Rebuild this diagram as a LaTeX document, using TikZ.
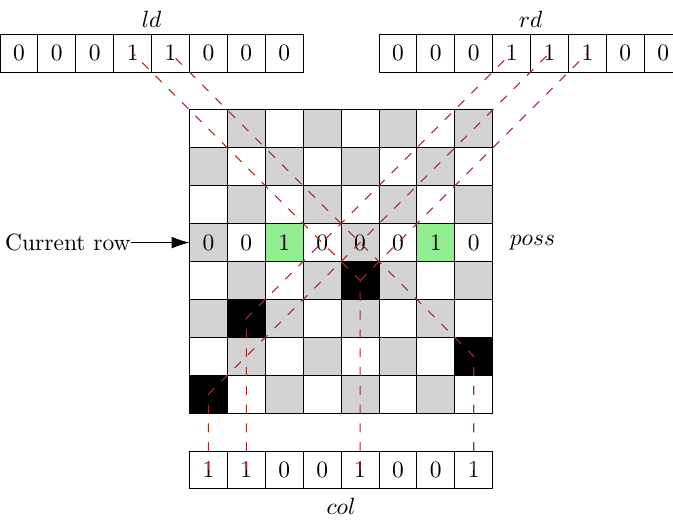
\documentclass[tikz,border=0pt]{standalone}
\usetikzlibrary{arrows.meta}
\definecolor{cellgray}{RGB}{211,211,211}
\definecolor{lgreen}{RGB}{144,238,144}
\definecolor{linkred}{RGB}{165,42,42}
\begin{document}
\begin{tikzpicture}[x=16.13pt, y=-16.13pt,
  cell/.style={draw, minimum size=16.13pt, inner sep=0pt, outer sep=0pt},
  link/.style={draw=linkred, dash pattern=on 3.8pt off 4.2pt, line width=0.45pt},
  lbl/.style={inner sep=0pt}]
\useasboundingbox (0,0) rectangle (17.757,13.694);
% ld array
\foreach \v [count=\i from 0] in {0,0,0,1,1,0,0,0}
  \node[cell] (ld\i) at (\i+0.5,1.4) {\v};
% rd array
\foreach \v [count=\i from 0] in {0,0,0,1,1,1,0,0}
  \node[cell] (rd\i) at (10.5+\i,1.4) {\v};
% col array
\foreach \v [count=\i from 0] in {1,1,0,0,1,0,0,1}
  \node[cell] (col\i) at (5.5+\i,12.4) {\v};
% board
\foreach \r in {0,...,7}{
 \foreach \c in {0,...,7}{
  \pgfmathtruncatemacro\parity{mod(\r+\c,2)}
  \pgfmathtruncatemacro\qc{{-1,-1,-1,-1,4,1,7,0}[\r]}
  \pgfmathtruncatemacro\pv{{0,0,1,0,0,0,1,0}[\c]}
  \ifnum\parity=1 \def\fc{cellgray}\else\def\fc{white}\fi
  \ifnum\c=\qc \def\fc{black}\fi
  \def\txt{}
  \ifnum\r=3 \edef\txt{\pv}\ifnum\pv=1 \def\fc{lgreen}\fi\fi
  \node[cell, fill=\fc] (b-\r-\c) at (5.5+\c,3.4+\r) {\txt};
 }}
% labels
\node (ldlabel) at (4,0.5) {$ld$};
\node (rdlabel) at (14,0.5) {$rd$};
\node (collabel) at (9,13.35) {$col$};
\node (posslabel) at (14.05,6.4) {$poss$};
\node[lbl, anchor=east] (cur) at (3.46,6.4) {Current row};
\draw[-{Latex[length=7.6pt,width=5pt]}] (cur.east) -- (b-3-0.west);
% links
\draw[link] (col4.center) -- (b-4-4.center) -- (ld3.center);
\draw[link] (b-4-4.center) -- (rd5.center);
\draw[link] (col1.center) -- (b-5-1.center) -- (rd3.center);
\draw[link] (col7.center) -- (b-6-7.center) -- (ld4.center);
\draw[link] (col0.center) -- (b-7-0.center) -- (rd4.center);
\end{tikzpicture}
\end{document}
